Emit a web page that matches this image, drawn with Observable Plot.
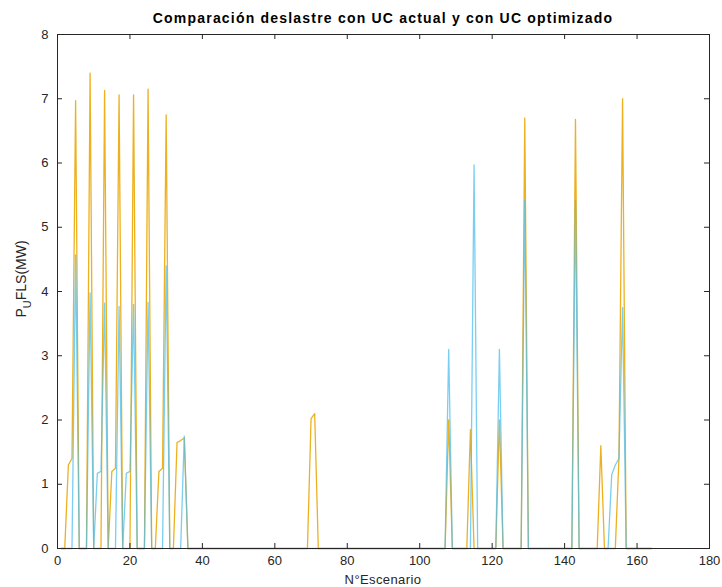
<!DOCTYPE html>
<html><head><meta charset="utf-8">
<script src="https://cdn.jsdelivr.net/npm/d3@7"></script>
<script src="https://cdn.jsdelivr.net/npm/@observablehq/plot@0.6"></script>
<style>
body{margin:0;background:#fff;font-family:"Liberation Sans",Arial,sans-serif;}
#title{box-sizing:border-box;width:722px;height:28px;padding:10px 0 0 44px;text-align:center;font-weight:bold;font-size:14px;letter-spacing:1.2px;line-height:16px;color:#000;}
</style></head><body>
<div id="title">Comparación deslastre con UC actual y con UC optimizado</div>
<div id="chart"></div>
<script>
const escenario = [1,2,3,4,5,6,7,8,9,10,11,12,13,14,15,16,17,18,19,20,21,22,23,24,25,26,27,28,29,30,31,32,33,34,35,36,
  69,70,71,72, 107,108,109, 113,114,115,116, 121,122,123, 128,129,130, 142,143,144, 149,150,151,152,153,154,155,156,157, 164];
const ucActual = [0,0,1.3,1.4,6.97,0,0,0,7.4,0,0,0,7.13,0,1.2,1.25,7.06,0,0,0,7.06,0,0,0,7.15,0,0,1.2,1.25,6.75,0,0,1.65,1.68,1.72,0,
  0,2.02,2.1,0, 0,2.0,0, 0,1.85,0,0, 0,2.0,0, 0,6.7,0, 0,6.68,0, 0,1.6,0,0,0,0,1.4,7.0,0, 0];
const ucOptimizado = [0,0,0,0,4.57,0,0,0,3.98,0,1.17,1.2,3.82,0,0,0,3.77,0,1.17,1.2,3.8,0,0,0,3.83,0,0,0,0,4.4,0,0,0,0,1.75,0,
  0,0,0,0, 0,3.1,0, 0,0,5.97,0, 0,3.1,0, 0,5.42,0, 0,5.42,0, 0,0,0,0,1.15,1.3,1.4,3.75,0, 0];
const xTicks = [0,20,40,60,80,100,120,140,160,180];
const yTicks = [0,1,2,3,4,5,6,7,8];
const xLabel = "N°Escenario";
const yLabelMain = "P", yLabelSub = "U", yLabelRest = "FLS(MW)";

const rows = escenario.map((e,i)=>({e, actual: ucActual[i], opt: ucOptimizado[i]}));
const ink = "#262626";
const W = 722, H = 559, mL = 57, mR = 13, mT = 6, mB = 39;
const fw = W - mL - mR, fh = H - mT - mB, tl = 5;
const plot = Plot.plot({
  width:W, height:H, marginTop:mT, marginBottom:mB, marginLeft:mL, marginRight:mR,
  style:{fontFamily:"Liberation Sans, Arial, sans-serif", fontSize:"13px", color:ink, background:"#fff", overflow:"visible"},
  x:{domain:[0,180]},
  y:{domain:[0,8]},
  marks:[
    Plot.line(rows,{x:"e",y:"actual",stroke:"#EDB120",strokeWidth:1.3}),
    Plot.line(rows,{x:"e",y:"opt",stroke:"#4DBEEE",strokeWidth:1.3,strokeOpacity:0.75}),
    Plot.frame({stroke:ink}),
    Plot.tickX(xTicks,{x:d=>d,insetTop:fh-tl,stroke:ink}),
    Plot.tickX(xTicks,{x:d=>d,insetBottom:fh-tl,stroke:ink}),
    Plot.tickY(yTicks,{y:d=>d,insetRight:fw-tl,stroke:ink}),
    Plot.tickY(yTicks,{y:d=>d,insetLeft:fw-tl,stroke:ink}),
    Plot.axisX(xTicks,{anchor:"bottom",tickSize:0,tickPadding:7,label:null,fill:ink,tickFormat:d3.format("d")}),
    Plot.axisY(yTicks,{anchor:"left",tickSize:0,tickPadding:9,label:null,fill:ink,tickFormat:d3.format("d")})
  ]
});
document.getElementById("chart").appendChild(plot);
const svg = d3.select(plot);
svg.append("text").attr("x",(mL + W - mR)/2).attr("y",H-3)
  .attr("text-anchor","middle").attr("fill",ink).style("font-size","13px").style("letter-spacing","0.4px").text(xLabel);
const yl = svg.append("text").attr("transform",`translate(26,${(mT + H - mB)/2 - 12}) rotate(-90)`)
  .attr("text-anchor","middle").attr("fill",ink).style("font-size","14px");
yl.append("tspan").text(yLabelMain);
yl.append("tspan").attr("dy",5).style("font-size","11px").text(yLabelSub);
yl.append("tspan").attr("dy",-5).text(yLabelRest);
</script>
</body></html>
